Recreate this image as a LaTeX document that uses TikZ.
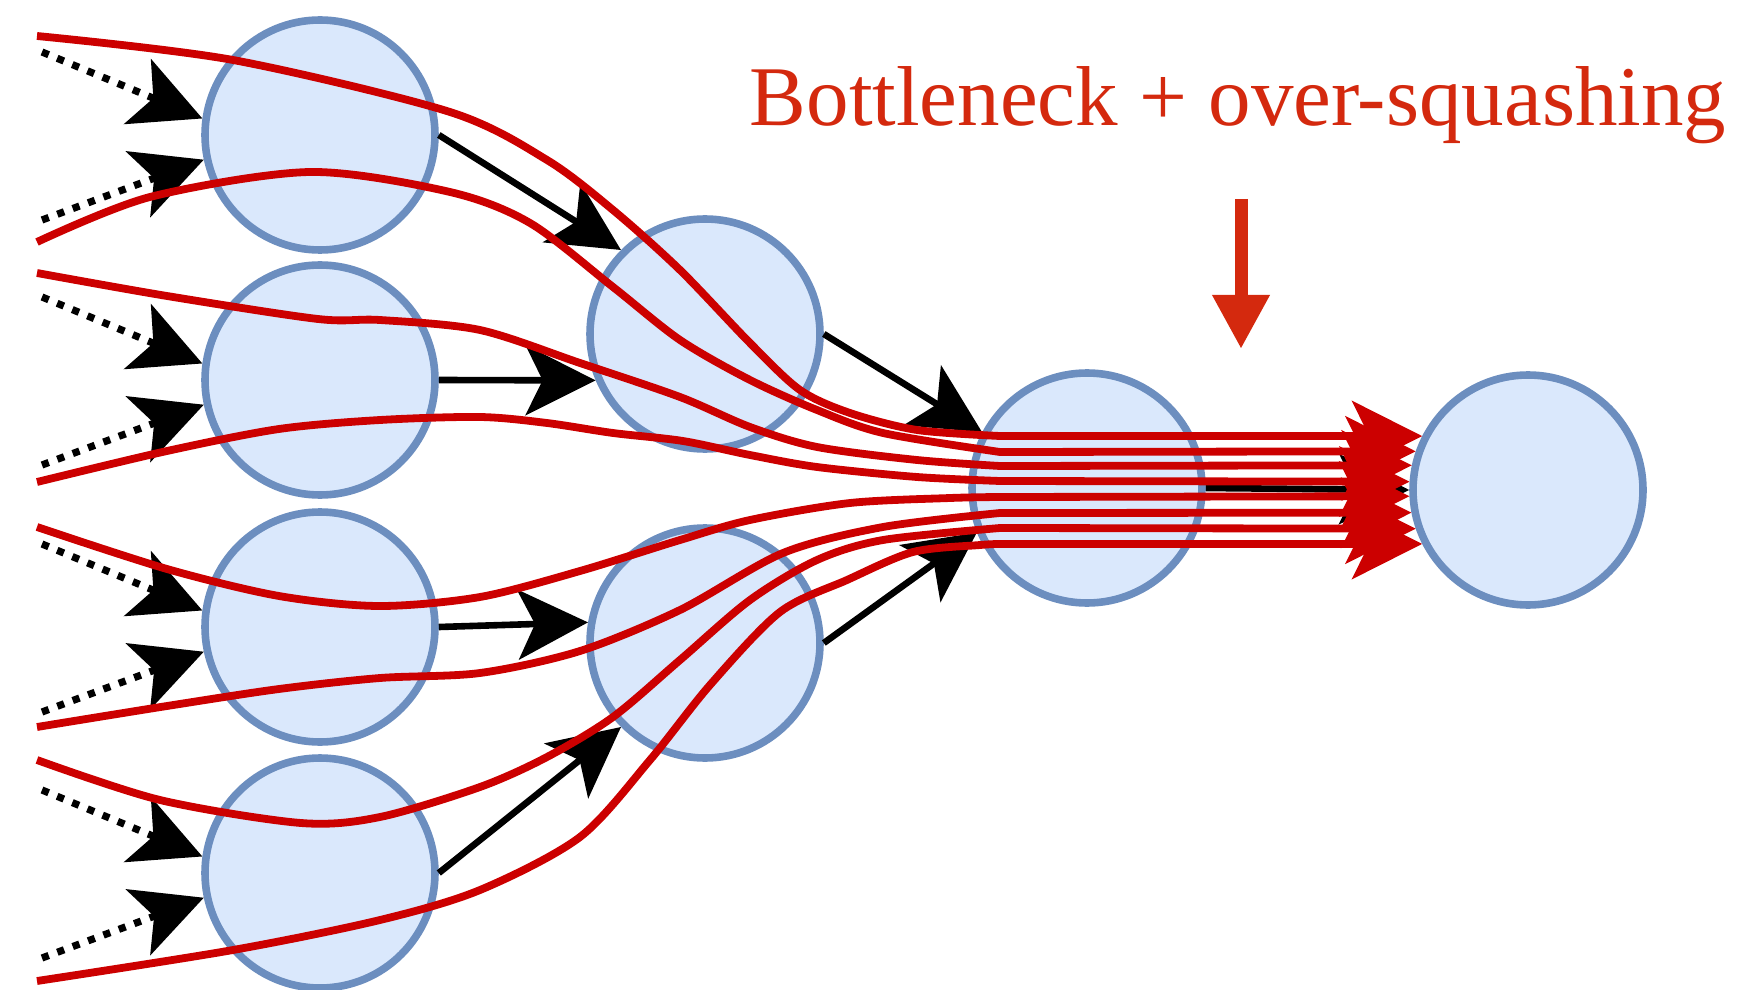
\documentclass[tikz,border=0pt]{standalone}
\usepackage{fontspec}
\setmainfont{Liberation Serif}
\usetikzlibrary{arrows.meta}

\definecolor{nodefill}{HTML}{DAE8FC}
\definecolor{nodeline}{HTML}{6C8EBF}
\definecolor{pathred}{HTML}{CC0000}
\definecolor{labelred}{RGB}{212,41,14}

\begin{document}
\begin{tikzpicture}[x=0.5pt, y=-0.5pt, >={Stealth[length=35pt,width=35pt,inset=8.5pt]},
  gnode/.style={circle, draw=nodeline, fill=nodefill, line width=3.8pt, minimum size=115pt, inner sep=0pt},
  link/.style={->, line width=3.3pt},
  feed/.style={->, line width=3.6pt, dash pattern=on 3.6pt off 4.6pt},
  squash/.style={->, pathred, line width=3.9pt}]

\useasboundingbox (0,0) rectangle (1748,989);

% Input layer with incoming (dotted) messages
\foreach \i/\y in {1/135,2/380,3/627,4/873} {
  \node[gnode] (in\i) at (320,\y) {};
  \coordinate (srcu\i) at (42,\y-83);
  \coordinate (srcl\i) at (42,\y+85);
  \draw[feed] (srcu\i) -- (in\i.172);
  \draw[feed] (srcl\i) -- (in\i.192);
}

% Hidden layer, bottleneck and target
\node[gnode] (mid1) at (705,334) {};
\node[gnode] (mid2) at (705,643) {};
\node[gnode] (neck) at (1087,488) {};
\node[gnode] (sink) at (1528,490) {};

% Message passing edges
\draw[link] (in1.east) -- (mid1.135);
\draw[link] (in2.east) -- (mid1.203);
\draw[link] (in3.east) -- (mid2.170);
\draw[link] (in4.east) -- (mid2.225);
\draw[link] (mid1.east) -- (neck.152);
\draw[link] (mid2.east) -- (neck.202);
\draw[link] (neck.east) -- (sink.west);

% Receptive field paths, all squeezed through the bottleneck
\coordinate (r1) at (37,36);
\coordinate (r2) at (37,242);
\coordinate (r3) at (37,273);
\coordinate (r4) at (37,482);
\coordinate (r5) at (37,527);
\coordinate (r6) at (37,727);
\coordinate (r7) at (37,760);
\coordinate (r8) at (37,981);

\draw[squash] plot[smooth] coordinates {(r1) (233,60) (450,112) (547,160) (613,210) (680,270) (750,343) (800,390) (850,413) (917,430) (1000,436)} -- (sink.153);
\draw[squash] plot[smooth] coordinates {(r2) (150,197) (310,172) (450,192) (530,223) (613,287) (680,340) (750,380) (817,410) (883,433) (1000,452)} -- (sink.161);
\draw[squash] plot[smooth] coordinates {(r3) (167,296) (318,319) (380,320) (480,330) (580,363) (680,397) (750,427) (817,447) (917,460) (1000,466)} -- (sink.168);
\draw[squash] plot[smooth] coordinates {(r4) (167,451) (279,429) (380,420) (480,417) (547,423) (613,433) (683,441) (750,455) (817,467) (917,477) (1000,481)} -- (sink.176);
\draw[squash] plot[smooth] coordinates {(r5) (167,569) (279,596) (379,606) (480,597) (580,571) (680,540) (750,520) (850,503) (950,498) (1000,497)} -- (sink.183);
\draw[squash] plot[smooth] coordinates {(r6) (167,706) (279,689) (380,678) (480,673) (580,651) (680,610) (783,553) (883,527) (1000,513)} -- (sink.191);
\draw[squash] plot[smooth] coordinates {(r7) (160,800) (301,823) (380,817) (480,787) (547,757) (613,717) (680,660) (750,600) (817,560) (883,540) (1000,528)} -- (sink.199);
\draw[squash] plot[smooth] coordinates {(r8) (233,950) (380,920) (480,890) (580,837) (650,760) (710,685) (780,612) (847,580) (913,552) (980,545) (1000,544)} -- (sink.207);

% Label
\node[labelred, anchor=base, inner sep=0pt, font=\fontsize{42.5}{50}\selectfont] (title) at (1238,126) {Bottleneck + over-squashing};
\coordinate (marktop) at (1241,199);
\coordinate (marktip) at (1241,349);
\draw[labelred, line width=6.5pt, -{Triangle[length=27pt,width=27pt]}] (marktop) -- (marktip);

\end{tikzpicture}
\end{document}
